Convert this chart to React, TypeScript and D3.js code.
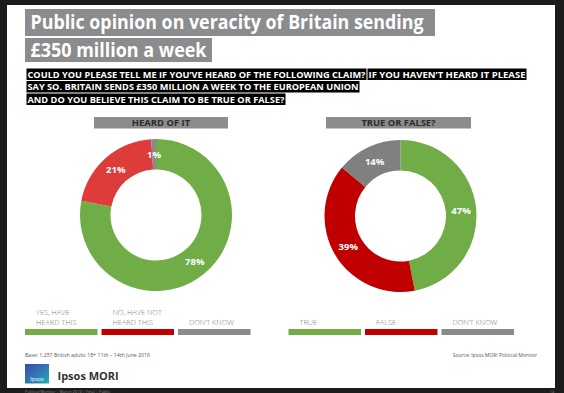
import React from "react";
import * as d3 from "d3";

const titleLines = ["Public opinion on veracity of Britain sending", "£350 million a week"];
const questionLines = [
  ["COULD YOU PLEASE TELL ME IF YOU\u2019VE HEARD OF THE FOLLOWING CLAIM?", "IF YOU HAVEN\u2019T HEARD IT PLEASE"],
  ["SAY SO. BRITAIN SENDS £350 MILLION A WEEK TO THE EUROPEAN UNION"],
  ["AND DO YOU BELIEVE THIS CLAIM TO BE TRUE OR FALSE?"],
];
const heardCategories = ["YES, HAVE\nHEARD THIS", "NO, HAVE NOT\nHEARD THIS", "DON\u2019T KNOW"];
const heardValues = [78, 21, 1];
const trueCategories = ["TRUE", "FALSE", "DON\u2019T KNOW"];
const trueValues = [47, 39, 14];
const chartTitles = ["HEARD OF IT", "TRUE OR FALSE?"];
const baseNote = "Base: 1,257 British  adults 18+ 11th \u2013 14th June 2016";
const sourceNote = "Source: Ipsos MORI Political Monitor";
const footerNote = "Political Monitor | March 2016 | Final | Public";

const W = 564;
const H = 393;
const font = "'Open Sans', 'Noto Sans', sans-serif";

type DonutProps = {
  cx: number;
  cy: number;
  values: number[];
  colors: string[];
  title: string;
  titleCx: number;
  titleW: number;
};

function Donut({ cx, cy, values, colors, title, titleCx, titleW }: DonutProps) {
  const pie = d3.pie<number>().sort(null).value((d) => d)(values);
  const rOut = 76;
  const rIn = 45.5;
  const arc = d3.arc<d3.PieArcDatum<number>>().innerRadius(rIn).outerRadius(rOut);
  return (
    <g>
      <rect x={titleCx - titleW / 2} y={117} width={titleW} height={11.5} fill="#8b8c8e" />
      <text
        x={titleCx}
        y={126}
        textAnchor="middle"
        fontFamily={font}
        fontWeight={700}
        fontSize={8.8}
        fill="#2b2b2b"
        textLength={title.length * 5.3}
        lengthAdjust="spacingAndGlyphs"
      >
        {title}
      </text>
      <g transform={`translate(${cx},${cy})`}>
        {pie.map((p, i) => (
          <path key={i} d={arc(p) || ""} fill={colors[i]} />
        ))}
        {pie.map((p, i) => {
          const [x, y] = arc.centroid(p);
          return (
            <text
              key={"l" + i}
              x={x}
              y={y + 3.5}
              textAnchor="middle"
              fontFamily={font}
              fontWeight={700}
              fontSize={9.5}
              fill="#ffffff"
            >
              {p.data}%
            </text>
          );
        })}
      </g>
    </g>
  );
}

type LegendProps = { x0: number; cats: string[]; colors: string[] };
function Legend({ x0, cats, colors }: LegendProps) {
  const step = 76.5;
  return (
    <g>
      {cats.map((c, i) => {
        const lines = c.split("\n");
        const x = x0 + i * step;
        return (
          <g key={i}>
            <rect x={x} y={329} width={72.5} height={6} fill={colors[i]} />
            {lines.map((ln, j) => (
              <text
                key={j}
                x={x + 11}
                y={324.5 - (lines.length - 1 - j) * 9.5}
                fontFamily={font}
                fontSize={7.4}
                fill="#7a7a7a"
                fontWeight={300}
              >
                {ln}
              </text>
            ))}
          </g>
        );
      })}
    </g>
  );
}

export default function App() {
  const qWidths = [[338, 157], [331], [257]];
  const qX = [[27.5, 368.5], [27.5], [27.5]];
  return (
    <svg
      width={W}
      height={H}
      style={{ position: "absolute", left: 0, top: 0, display: "block" }}
    >
      <defs>
        <linearGradient id="ipsosGrad" x1="0" y1="0" x2="1" y2="1">
          <stop offset="0" stopColor="#3a4aa8" />
          <stop offset="0.6" stopColor="#2f7fb8" />
          <stop offset="1" stopColor="#1fb2b0" />
        </linearGradient>
      </defs>
      <rect x={0} y={0} width={W} height={H} fill="#1c1c1c" />
      <rect x={7} y={5} width={548} height={383} fill="#ffffff" />

      {/* Title */}
      <rect x={25} y={9} width={410} height={27} fill="#8b8c8e" />
      <text
        x={30.5}
        y={29}
        fontFamily={font}
        fontWeight={700}
        fontSize={19}
        fill="#ffffff"
        textLength={393}
        lengthAdjust="spacingAndGlyphs"
      >
        {titleLines[0]}
      </text>
      <rect x={25} y={38} width={187} height={24} fill="#8b8c8e" />
      <text
        x={30.5}
        y={57}
        fontFamily={font}
        fontWeight={700}
        fontSize={19}
        fill="#ffffff"
        textLength={176}
        lengthAdjust="spacingAndGlyphs"
      >
        {titleLines[1]}
      </text>

      {/* Question */}
      {questionLines.map((line, li) =>
        line.map((t, k) => {
          const y0 = 68.5 + li * 12.5;
          const x = qX[li][k];
          const w = qWidths[li][k];
          return (
            <g key={li + "-" + k}>
              <rect x={x - 1} y={y0} width={w + 2} height={11.5} fill="#000000" />
              <text
                x={x}
                y={y0 + 9}
                fontFamily={font}
                fontWeight={700}
                fontSize={9}
                fill="#ffffff"
                textLength={w}
                lengthAdjust="spacingAndGlyphs"
              >
                {t}
              </text>
            </g>
          );
        })
      )}

      <Donut
        cx={156}
        cy={215}
        values={heardValues}
        colors={["#70ad47", "#de3b3b", "#8a8a8a"]}
        title={chartTitles[0]}
        titleCx={161}
        titleW={134}
      />
      <Donut
        cx={400.5}
        cy={216}
        values={trueValues}
        colors={["#70ad47", "#c00000", "#808080"]}
        title={chartTitles[1]}
        titleCx={398.5}
        titleW={145}
      />

      <Legend x0={25} cats={heardCategories} colors={["#70ad47", "#c00000", "#8a8a8a"]} />
      <Legend x0={288.5} cats={trueCategories} colors={["#70ad47", "#c00000", "#8a8a8a"]} />

      {/* Notes */}
      <text x={25} y={357} fontFamily={font} fontSize={5} fill="#555" textLength={125} lengthAdjust="spacingAndGlyphs">
        {baseNote}
      </text>
      <text x={537} y={357} textAnchor="end" fontFamily={font} fontSize={5} fill="#555">
        {sourceNote}
      </text>

      {/* Logo */}
      <rect x={25} y={364} width={24} height={19.5} fill="url(#ipsosGrad)" />
      <text x={37} y={381} textAnchor="middle" fontFamily={font} fontSize={5.5} fill="#ffffff">
        Ipsos
      </text>
      <text x={57.5} y={380} fontFamily={font} fontWeight={700} fontSize={11} fill="#333333">
        Ipsos MORI
      </text>

      {/* Footer */}
      <text x={25} y={392.5} fontFamily={font} fontSize={4} fill="#888">
        {footerNote}
      </text>
      <text x={552} y={392.5} textAnchor="middle" fontFamily={font} fontSize={4} fill="#888">
        14
      </text>
    </svg>
  );
}
